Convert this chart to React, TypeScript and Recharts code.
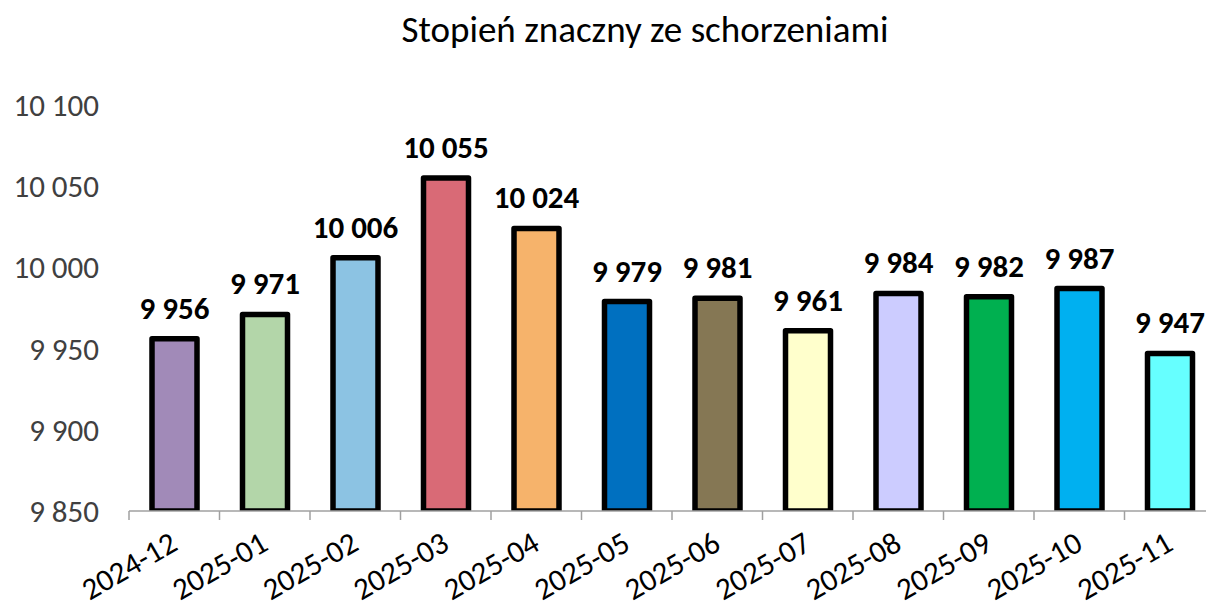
import { BarChart, Bar, XAxis, YAxis, Cell, LabelList } from "recharts";

const months = [
  "2024-12",
  "2025-01",
  "2025-02",
  "2025-03",
  "2025-04",
  "2025-05",
  "2025-06",
  "2025-07",
  "2025-08",
  "2025-09",
  "2025-10",
  "2025-11",
];
const counts = [9956, 9971, 10006, 10055, 10024, 9979, 9981, 9961, 9984, 9982, 9987, 9947];
const yTicks = [9850, 9900, 9950, 10000, 10050, 10100];

const barColors = [
  "#A18AB8",
  "#B3D6A9",
  "#8CC3E3",
  "#D96A76",
  "#F6B36B",
  "#0070C0",
  "#857754",
  "#FFFFCC",
  "#CCCCFF",
  "#00B050",
  "#00B0F0",
  "#66FFFF",
];

const data = months.map((m, i) => ({ month: m, value: counts[i] }));

// Carlito = metric clone of Calibri
const FONT = "Carlito, Lato, sans-serif";
const CHART_W = 1215;
const YAXIS_W = 129;
const band = (CHART_W - YAXIS_W) / months.length;

// non-breaking space as thousand separator (also for 4 digits) so labels don't wrap
function fmt(v: number | string) {
  return String(v).replace(/\B(?=(\d{3})+(?!\d))/g, "\u00a0");
}

function MonthTick(props: any) {
  const { x, y, payload } = props;
  const tx = x + 5;
  const ty = y + 38;
  return (
    <g>
      <line x1={x - band / 2} x2={x - band / 2} y1={y} y2={y + 9} stroke="#a0a0a0" strokeWidth={1.5} />
      <text
        x={tx}
        y={ty}
        textAnchor="end"
        transform={`rotate(-30, ${tx}, ${ty})`}
        fontFamily={FONT}
        fontSize={31}
        fill="#000"
      >
        {payload.value}
      </text>
    </g>
  );
}

export default function App() {
  return (
    <div
      style={{
        position: "absolute",
        left: 0,
        top: 0,
        width: 1206,
        height: 601,
        overflow: "hidden",
        background: "#fff",
      }}
    >
      <svg width={1206} height={60} style={{ position: "absolute", left: 0, top: 0 }}>
        <text x={645} y={42} textAnchor="middle" fontFamily={FONT} fontSize={37} fill="#000">
          Stopień znaczny ze schorzeniami
        </text>
      </svg>
      <BarChart
        width={CHART_W}
        height={601}
        data={data}
        margin={{ top: 105, right: 0, bottom: 0, left: 0 }}
        barCategoryGap={0}
      >
        <XAxis
          dataKey="month"
          height={90}
          interval={0}
          tickSize={0}
          tickMargin={0}
          tickLine={false}
          axisLine={{ stroke: "#a0a0a0", strokeWidth: 1.5 }}
          tick={<MonthTick />}
        />
        <YAxis
          width={YAXIS_W}
          domain={[9850, 10100]}
          ticks={yTicks}
          allowDataOverflow
          axisLine={false}
          tickLine={false}
          tickSize={0}
          tickMargin={30}
          tickFormatter={fmt}
          tick={{ fontFamily: FONT, fontSize: 31, fill: "#404040" }}
        />
        <Bar
          dataKey="value"
          barSize={45}
          stroke="#000"
          strokeWidth={5.5}
          strokeLinejoin="round"
          isAnimationActive={false}
        >
          {data.map((d, i) => (
            <Cell key={d.month} fill={barColors[i]} />
          ))}
          <LabelList
            dataKey="value"
            position="top"
            offset={20}
            formatter={fmt}
            style={{ fontFamily: FONT, fontSize: 31, fontWeight: 700, fill: "#000" }}
          />
        </Bar>
      </BarChart>
    </div>
  );
}
